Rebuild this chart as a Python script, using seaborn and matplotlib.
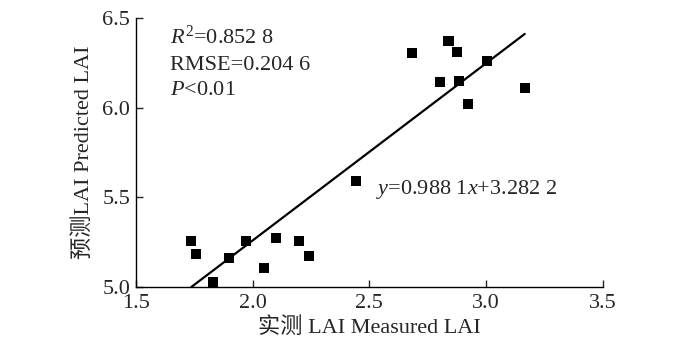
import numpy as np
import pandas as pd
import seaborn as sns
from matplotlib import pyplot as plt

# measured vs predicted LAI
measured = [1.736, 1.757, 1.830, 1.898, 1.971, 2.048, 2.100, 2.198, 2.241, 2.442,
            2.682, 2.802, 2.840, 2.875, 2.883, 2.922, 3.003, 3.166]
predicted = [5.257, 5.184, 5.028, 5.162, 5.257, 5.106, 5.273, 5.257, 5.173, 5.591,
             6.305, 6.143, 6.372, 6.311, 6.149, 6.021, 6.260, 6.110]

slope = 0.9881
intercept = 3.2822
fit_x = [1.7386, 3.166]

xticks = [1.5, 2.0, 2.5, 3.0, 3.5]
yticks = [5.0, 5.5, 6.0, 6.5]

df = pd.DataFrame({'measured': measured, 'predicted': predicted})
fit = pd.DataFrame({'x': fit_x})
fit['y'] = slope * fit['x'] + intercept

sns.set_style('ticks')
plt.rcParams['font.family'] = ['Liberation Serif', 'Noto Sans CJK SC']
plt.rcParams['mathtext.fontset'] = 'custom'
plt.rcParams['mathtext.rm'] = 'Liberation Serif'
plt.rcParams['mathtext.it'] = 'Liberation Serif:italic'
plt.rcParams['xtick.direction'] = 'in'
plt.rcParams['ytick.direction'] = 'in'

fig = plt.figure(figsize=(7, 3.44), dpi=100)
ax = fig.add_axes([0.194, 0.166, 0.667, 0.782])

sns.lineplot(x='x', y='y', data=fit, color='black', linewidth=1.6, ax=ax)
sns.scatterplot(x='measured', y='predicted', data=df, marker='s', color='black',
                s=55, edgecolor='none', ax=ax, zorder=3)

ax.set_xlim(1.5, 3.5)
ax.set_ylim(5.0, 6.5)
ax.set_xticks(xticks)
ax.set_yticks(yticks)
ax.set_xticklabels(['%.1f' % v for v in xticks], fontsize=16)
ax.set_yticklabels(['%.1f' % v for v in yticks], fontsize=16)
ax.tick_params(axis='x', length=5, width=1, pad=5)
ax.tick_params(axis='y', length=5, width=1, pad=4)
sns.despine(ax=ax)
for s in ['left', 'bottom']:
    ax.spines[s].set_linewidth(1)
    ax.spines[s].set_color('black')

ax.set_xlabel('实测 LAI Measured LAI', fontsize=16, labelpad=3)
ax.set_ylabel('预测LAI Predicted LAI', fontsize=16, labelpad=6)

ax.text(1.646, 6.39, r'$R^{\mathrm{2}}$=0.852 8', fontsize=16, va='center')
ax.text(1.646, 6.233, 'RMSE=0.204 6', fontsize=16, va='center')
ax.text(1.646, 6.094, r'$P$<0.01', fontsize=16, va='center')
ax.text(2.528, 5.545, r'$y$=0.988 1$x$+3.282 2', fontsize=16, va='center')

fig.savefig('out.png', dpi=100)
